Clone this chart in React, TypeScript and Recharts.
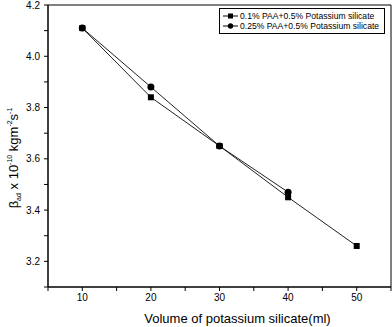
import React from 'react';
import {
  LineChart,
  Line,
  XAxis,
  YAxis,
  Legend,
  ReferenceLine,
  Label
} from 'recharts';

const volume = [10, 20, 30, 40, 50];
const paa01 = [4.11, 3.84, 3.65, 3.45, 3.26];
const paa025 = [4.11, 3.88, 3.65, 3.47, null];

const xTicks = [5, 10, 15, 20, 25, 30, 35, 40, 45, 50, 55];
const yTicks = [3.1, 3.2, 3.3, 3.4, 3.5, 3.6, 3.7, 3.8, 3.9, 4.0, 4.1, 4.2];

const series = [
  { key: 'a', name: '0.1% PAA+0.5% Potassium silicate', marker: 'square' },
  { key: 'b', name: '0.25% PAA+0.5% Potassium silicate', marker: 'circle' }
];

const chartData = volume.map((v, i) => ({ v, a: paa01[i], b: paa025[i] }));

const SquareDot = (props: any) => {
  const { cx, cy } = props;
  if (cx == null || cy == null) return null;
  return <rect x={cx - 3} y={cy - 3} width={6} height={6} fill="#000" />;
};

const CircleDot = (props: any) => {
  const { cx, cy } = props;
  if (cx == null || cy == null) return null;
  return <circle cx={cx} cy={cy} r={3.5} fill="#000" />;
};

const LegendBox = () => (
  <div
    style={{
      boxSizing: 'border-box',
      border: '1px solid #000',
      background: '#fff',
      padding: '2px 3px',
      fontSize: 8.6,
      lineHeight: '10px',
      fontFamily: 'Liberation Sans, Arial, sans-serif',
      color: '#000',
      width: 166,
      whiteSpace: 'nowrap'
    }}
  >
    {series.map((s) => (
      <div key={s.key} style={{ display: 'flex', alignItems: 'center' }}>
        <svg width={15} height={10} style={{ marginRight: 2, flexShrink: 0 }}>
          <line x1={0} y1={5} x2={15} y2={5} stroke="#000" strokeWidth={1} />
          {s.marker === 'square' ? (
            <rect x={5} y={2.5} width={5} height={5} fill="#000" />
          ) : (
            <circle cx={7.5} cy={5} r={2.7} fill="#000" />
          )}
        </svg>
        <span>{s.name}</span>
      </div>
    ))}
  </div>
);

const XTitle = (props: any) => {
  const { viewBox } = props;
  const x = viewBox.x + viewBox.width / 2 + 18;
  return (
    <text x={x} y={323} textAnchor="middle" fontSize={13} fill="#000">
      Volume of potassium silicate(ml)
    </text>
  );
};

const YTitle = (props: any) => {
  const { viewBox } = props;
  const cy = viewBox.y + viewBox.height / 2 + 12;
  return (
    <text
      x={0}
      y={0}
      transform={`translate(18, ${cy}) rotate(-90)`}
      textAnchor="middle"
      fontSize={13}
      fill="#000"
    >
      β<tspan fontSize={7} dy={3}>ad</tspan>
      <tspan dy={-3}> x 10</tspan>
      <tspan fontSize={7} dy={-6}>-10</tspan>
      <tspan dy={6}> kgm</tspan>
      <tspan fontSize={7} dy={-6}>-2</tspan>
      <tspan dy={6}>s</tspan>
      <tspan fontSize={7} dy={-6}>-1</tspan>
    </text>
  );
};

export default function App() {
  return (
    <div style={{ position: 'absolute', left: 0, top: 0, fontFamily: 'Liberation Sans, Arial, sans-serif' }}>
      <LineChart width={392} height={327} data={chartData} margin={{ top: 5, right: 1, bottom: 0, left: 0 }}>
        <XAxis
          dataKey="v"
          type="number"
          domain={[5, 55]}
          ticks={xTicks}
          allowDataOverflow
          tickFormatter={(t: number) => (t % 10 === 0 ? String(t) : '')}
          tick={{ fontSize: 10, fill: '#000' }}
          tickSize={4}
          tickMargin={3}
          height={40}
          axisLine={{ stroke: '#000', strokeWidth: 1.5 }}
          tickLine={{ stroke: '#000' }}
        >
          <Label content={<XTitle />} />
        </XAxis>
        <YAxis
          type="number"
          domain={[3.1, 4.2]}
          ticks={yTicks}
          allowDataOverflow
          tickFormatter={(t: number) => (Math.round(t * 10) % 2 === 0 ? t.toFixed(1) : '')}
          tick={{ fontSize: 10, fill: '#000' }}
          tickSize={4}
          tickMargin={4}
          width={48}
          axisLine={{ stroke: '#000', strokeWidth: 1.5 }}
          tickLine={{ stroke: '#000' }}
        >
          <Label content={<YTitle />} />
        </YAxis>
        <ReferenceLine y={4.2} stroke="#000" strokeWidth={1} />
        <ReferenceLine x={55} stroke="#000" strokeWidth={1} />
        <Legend
          layout="horizontal"
          align="center"
          verticalAlign="middle"
          wrapperStyle={{ top: 8, left: 219, width: 166 }}
          content={<LegendBox />}
        />
        <Line
          dataKey="a"
          name={series[0].name}
          stroke="#222"
          strokeWidth={1}
          dot={<SquareDot />}
          activeDot={false}
          isAnimationActive={false}
        />
        <Line
          dataKey="b"
          name={series[1].name}
          stroke="#222"
          strokeWidth={1}
          dot={<CircleDot />}
          activeDot={false}
          connectNulls={false}
          isAnimationActive={false}
        />
      </LineChart>
    </div>
  );
}
